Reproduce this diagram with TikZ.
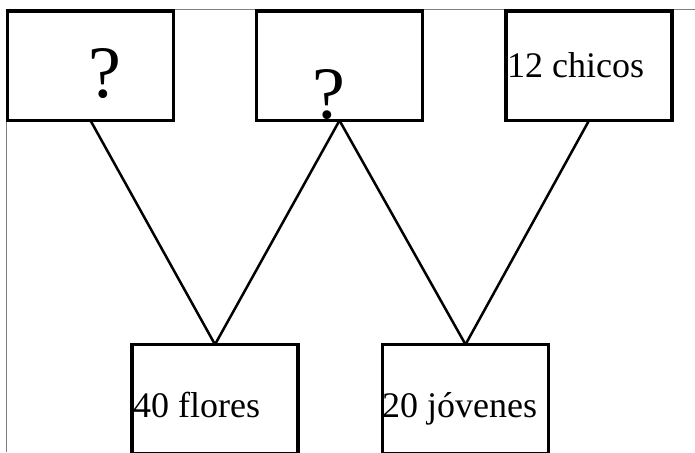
\documentclass[tikz,border=0pt]{standalone}
\usepackage{fontspec}
\setmainfont{Liberation Serif}
\usetikzlibrary{positioning}

\begin{document}
\begin{tikzpicture}[x=1pt,y=-1pt,
  box/.style={draw,line width=3.5pt,minimum width=166pt,minimum height=109.5pt,inner sep=0pt,outer sep=0pt},
  lbl/.style={inner sep=0pt,anchor=base west,font=\fontsize{36}{40}\selectfont},
  qmark/.style={inner sep=0pt,anchor=base,font=\fontsize{74}{80}\selectfont}]
  \useasboundingbox (0,0) rectangle (695,452);
  % page frame
  \draw[gray,line width=1.2pt] (695,9.5) -- (6.5,9.5) -- (6.5,452);
  \node[box] (unk1) at (90.5,65.75) {};
  \node[box,right=83pt of unk1] (unk2) {};
  \node[box,right=83.5pt of unk2] (chicos) {};
  \node[box] (flores) at (215,399.25) {};
  \node[box] (jovenes) at (465.5,399.25) {};
  \node[qmark] (q1) at (105,97) {?};
  \node[qmark] (q2) at (328.5,118) {?};
  \node[lbl] (t3) at (507,77) {12 chicos};
  \node[lbl] (t4) at (133,417) {40 flores};
  \node[lbl] (t5) at (382,417) {20 jóvenes};
  \path[line width=2.5pt]
    (unk1.south) edge (flores.north)
    (unk2.south) edge (flores.north)
    (unk2.south) edge (jovenes.north)
    (chicos.south) edge (jovenes.north);
\end{tikzpicture}
\end{document}
